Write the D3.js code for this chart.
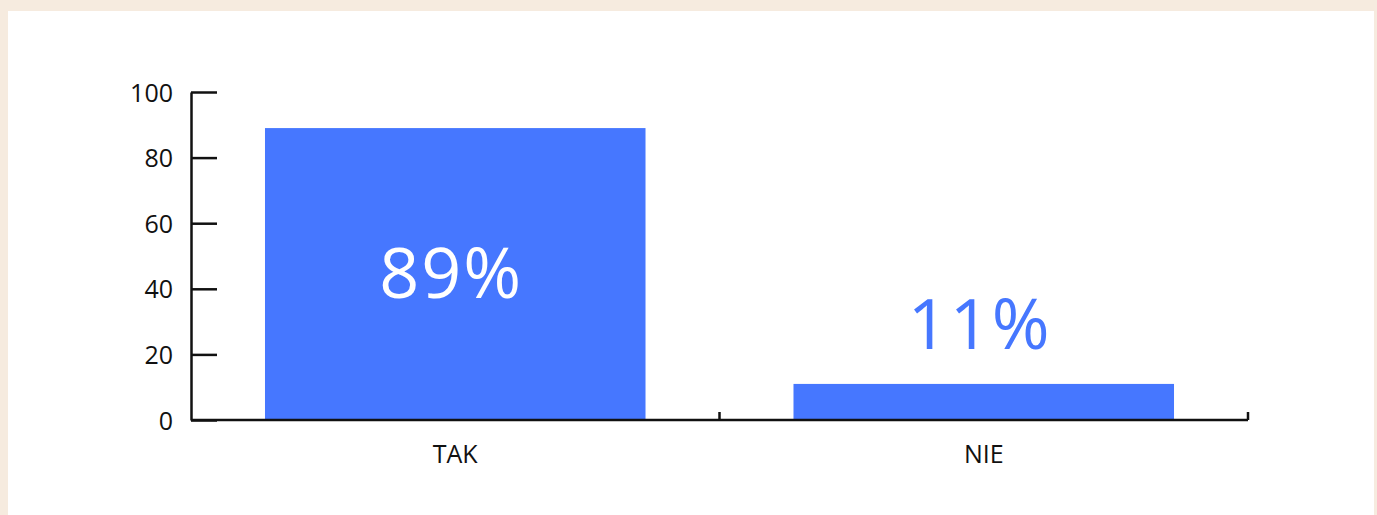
<!DOCTYPE html>
<html>
<head>
<meta charset="utf-8">
<script src="https://cdn.jsdelivr.net/npm/d3@7"></script>
<style>
  html, body { margin: 0; padding: 0; background: #f6ebdf; }
  #frame { position: absolute; left: 8px; top: 11px; width: 1366px; height: 504px; background: #ffffff; }
  svg { position: absolute; left: 0; top: 0; }
</style>
</head>
<body>
<div id="frame"></div>
<svg id="chart" width="1377" height="515"></svg>
<script>
// Survey answers and their shares (percent)
const categories = ["TAK", "NIE"];
const values = [89, 11];
const yTicks = [0, 20, 40, 60, 80, 100];

const barColor = "#4677ff";
const axisColor = "#111111";
const labelFont = "'Open Sans', 'Noto Sans', sans-serif";

const svg = d3.select("#chart");

const plot = { left: 191, right: 1248, top: 92, bottom: 420 };

const x = d3.scaleBand()
  .domain(categories)
  .range([plot.left, plot.right])
  .paddingInner(0)
  .paddingOuter(0);

const y = d3.scaleLinear()
  .domain([0, 100])
  .range([plot.bottom, plot.top]);

const barFrac = 0.72;
const barW = x.bandwidth() * barFrac;
const barOff = (x.bandwidth() - barW) / 2;

// Bars
svg.append("g").selectAll("rect")
  .data(categories)
  .join("rect")
  .attr("x", (d) => x(d) + barOff)
  .attr("width", barW)
  .attr("y", (d, i) => y(values[i]))
  .attr("height", (d, i) => y(0) - y(values[i]))
  .attr("fill", barColor);

// Y axis: ticks pointing into the plot
const yAxis = svg.append("g")
  .attr("transform", `translate(${plot.left},0)`)
  .call(d3.axisRight(y).tickValues(yTicks).tickSize(26).tickSizeOuter(0).tickFormat(d3.format("d")));
yAxis.select(".domain").attr("stroke", axisColor).attr("stroke-width", 2.5);
yAxis.selectAll(".tick line").attr("stroke", axisColor).attr("stroke-width", 2.5);
yAxis.selectAll(".tick text")
  .attr("x", -18)
  .attr("text-anchor", "end")
  .attr("dy", "0.36em")
  .attr("fill", axisColor)
  .style("font-family", labelFont)
  .style("font-size", "25px");

// X axis: baseline with ticks at band boundaries
const xg = svg.append("g").attr("transform", `translate(0,${plot.bottom})`);
xg.append("line")
  .attr("x1", plot.left).attr("x2", plot.right)
  .attr("stroke", axisColor).attr("stroke-width", 2.5);
const boundaries = categories.slice(1).map((d) => x(d)).concat([plot.right]);
xg.selectAll("line.tick")
  .data(boundaries)
  .join("line")
  .attr("class", "tick")
  .attr("x1", (d) => d).attr("x2", (d) => d)
  .attr("y1", 0).attr("y2", -8)
  .attr("stroke", axisColor).attr("stroke-width", 2.5);
xg.selectAll("text")
  .data(categories)
  .join("text")
  .attr("x", (d) => x(d) + x.bandwidth() / 2)
  .attr("y", 43)
  .attr("text-anchor", "middle")
  .attr("fill", axisColor)
  .style("font-family", labelFont)
  .style("font-size", "25px")
  .text((d) => d);

// Value labels: inside tall bars, above short ones
svg.append("g").selectAll("text")
  .data(categories)
  .join("text")
  .attr("x", (d) => x(d) + x.bandwidth() / 2 - 4)
  .attr("y", (d, i) => {
    const top = y(values[i]);
    return values[i] > 30 ? (top + y(0)) / 2 + 24 : top - 35;
  })
  .attr("text-anchor", "middle")
  .attr("fill", (d, i) => values[i] > 30 ? "#ffffff" : barColor)
  .style("font-family", labelFont)
  .style("font-weight", 400)
  .style("letter-spacing", "2px")
  .style("font-size", "70px")
  .text((d, i) => values[i] + "%");
</script>
</body>
</html>
